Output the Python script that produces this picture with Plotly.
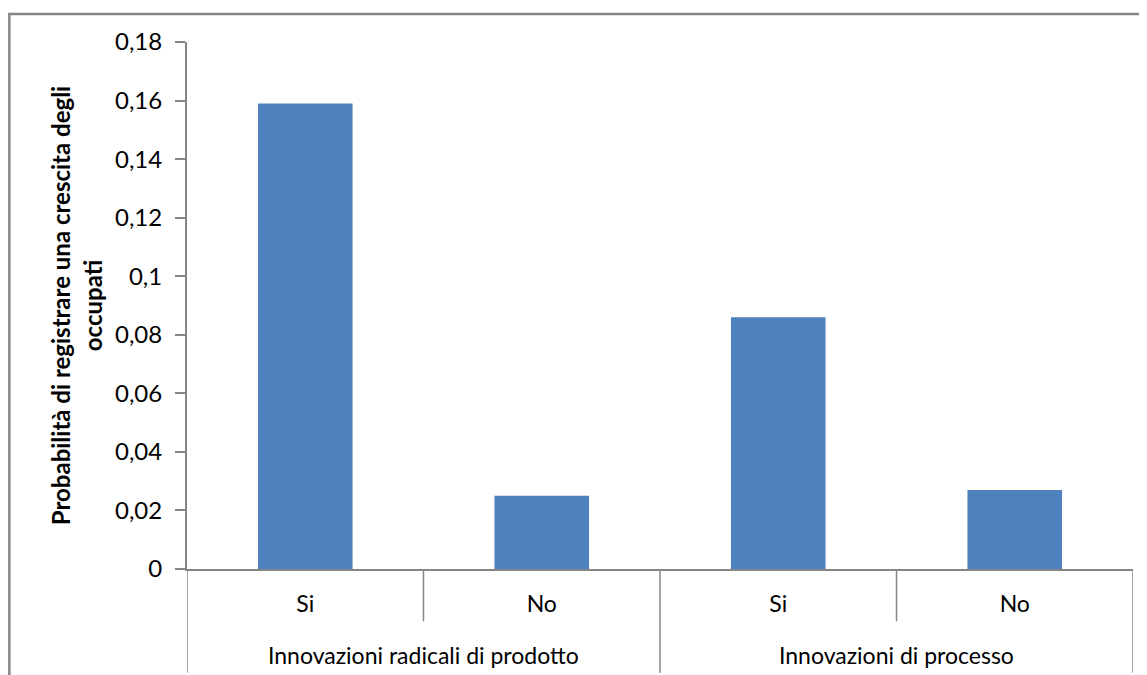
import plotly.graph_objects as go

groups = ["Innovazioni radicali di prodotto", "Innovazioni radicali di prodotto",
          "Innovazioni di processo", "Innovazioni di processo"]
answers = ["Si", "No", "Si", "No"]
values = [0.159, 0.025, 0.086, 0.027]
y_ticks = [0, 0.02, 0.04, 0.06, 0.08, 0.1, 0.12, 0.14, 0.16, 0.18]
y_labels = ["0", "0,02", "0,04", "0,06", "0,08", "0,1", "0,12", "0,14", "0,16", "0,18"]
y_title = "Probabilità di registrare una crescita degli<br>occupati"

FONT = "Lato"
GRAY = "#868686"

n = len(answers)
xpos = list(range(n))

fig = go.Figure(go.Bar(x=xpos, y=values, marker_color="#4F81BD", marker_line_width=0))

# category dividers: long between groups / at ends, short within a group
shapes = []
for i in range(n + 1):
    is_group_edge = i == 0 or i == n or groups[i - 1] != groups[i]
    shapes.append(dict(type="line", xref="x", yref="paper", x0=i - 0.5, x1=i - 0.5,
                       y0=0, y1=-0.197 if is_group_edge else -0.099,
                       line=dict(color=GRAY, width=1.5)))
# outer chart frame
shapes.append(dict(type="rect", xref="paper", yref="paper", x0=-0.1878, x1=1.2,
                   y0=-0.5, y1=1.053, line=dict(color=GRAY, width=2.5)))

# outer-level (group) labels
annotations = []
seen = []
for g in groups:
    if g not in seen:
        seen.append(g)
for g in seen:
    idx = [i for i, gg in enumerate(groups) if gg == g]
    annotations.append(dict(text=g, xref="x", yref="paper", x=sum(idx) / len(idx),
                            y=-0.163, showarrow=False, xanchor="center", yanchor="middle",
                            font=dict(size=23, family=FONT, color="black")))

fig.update_layout(
    width=1139, height=667,
    margin=dict(l=179, r=14, t=34, b=106, autoexpand=False),
    paper_bgcolor="white", plot_bgcolor="white",
    bargap=0.6, showlegend=False,
    font=dict(family=FONT, size=24, color="black"),
    shapes=shapes, annotations=annotations,
)
fig.update_xaxes(
    range=[-0.5, n - 0.5], tickvals=xpos, ticktext=answers,
    showline=True, linecolor=GRAY, linewidth=2,
    showgrid=False, zeroline=False, ticks="outside", ticklen=13,
    tickcolor="rgba(0,0,0,0)", tickfont=dict(size=23),
)
fig.update_yaxes(
    range=[0, 0.18], tickvals=y_ticks, ticktext=y_labels, showline=True,
    linecolor=GRAY, linewidth=2, ticks="outside", ticklen=10, tickcolor=GRAY,
    tickwidth=2, showgrid=False, zeroline=False, tickfont=dict(size=24),
    ticklabelstandoff=8,
    title=dict(text=y_title, font=dict(size=24, family=FONT, weight="bold"), standoff=6),
)
fig.write_html("out.html")
